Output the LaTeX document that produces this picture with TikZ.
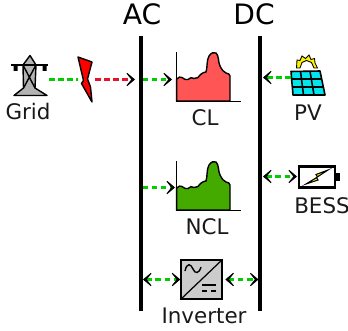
\documentclass[tikz,border=0pt]{standalone}
\usepackage{fontspec}
\setmainfont{DejaVu Sans}
\usetikzlibrary{arrows.meta}
\definecolor{flowgreen}{HTML}{00CC00}
\definecolor{flowred}{HTML}{E8102A}
\definecolor{clfill}{HTML}{FF5555}
\definecolor{nclfill}{HTML}{44AA00}
\definecolor{pvfill}{HTML}{00E5EE}
\definecolor{towergray}{HTML}{B3B3B3}
\definecolor{invgray}{HTML}{CCCCCC}
\tikzset{
  bus/.style={line width=1.75pt,black},
  lbl/.style={font=\fontsize{12.2}{13}\selectfont,inner sep=0pt,text=black!90},
  hdr/.style={font=\fontsize{16}{17}\selectfont,inner sep=0pt},
  tipb/.tip={Stealth[black,length=6.5pt,width=11pt,inset=4.4pt]},
  flow/.style={line width=1.5pt,flowgreen,dash pattern=on 3.2pt off 2pt},
  flowr/.style={line width=1.5pt,flowred,dash pattern=on 3.2pt off 2pt},
  sym/.style={draw=black,line width=0.8pt,line join=round},
  axisl/.style={draw=black,line width=0.9pt},
}
\newcommand{\loadcurve}[1]{
  (176.7,79+#1) .. controls (179,77+#1) and (180,76.5+#1) .. (182,77.5+#1)
  .. controls (184,79+#1) and (186,80.5+#1) .. (188,79.5+#1)
  .. controls (190,77.5+#1) and (192,77+#1) .. (194,78.5+#1)
  .. controls (197,79+#1) and (199,77+#1) .. (200.5,74.5+#1)
  .. controls (202,72+#1) and (204.5,73+#1) .. (206,72+#1)
  .. controls (207.5,68+#1) and (206.5,60+#1) .. (209,56+#1)
  .. controls (211,53+#1) and (214,51.5+#1) .. (216,53+#1)
  .. controls (219,55.5+#1) and (218,62+#1) .. (220,66+#1)
  .. controls (222,70+#1) and (224,72.5+#1) .. (226,73+#1)
  .. controls (228,73.5+#1) and (230,74+#1) .. (230,76+#1)
  -- (230,101+#1) -- (176.7,101+#1) -- cycle
}
\begin{document}
\begin{tikzpicture}[x=0.02cm,y=-0.02cm]
\useasboundingbox (0,0) rectangle (348,331);
% buses
\coordinate (acT) at (141,36); \coordinate (acB) at (141,311);
\coordinate (dcT) at (260,36); \coordinate (dcB) at (260,311);
\draw[bus] (acT) -- (acB);
\draw[bus] (dcT) -- (dcB);
\node[hdr] (ac) at (142,14) {AC};
\node[hdr] (dc) at (254,14) {DC};
% tower
\filldraw[sym,fill=towergray] (30,55.5) -- (36,65) -- (35,88) -- (47,95.5) -- (14,95.5) -- (23.5,88) -- (23,65) -- cycle;
\draw[sym] (23,65) -- (35,88) (36,65) -- (23.5,88);
\draw[black,line width=1pt] (11,65) -- (48,65);
\fill[black] (13.5,65) rectangle (17.5,71) (42.5,65) rectangle (46.5,71);
\node[lbl] (grid) at (28,112) {Grid};
\coordinate (gridE) at (49,79.5);
% bolt
\filldraw[sym,fill=red] (78,57) -- (92,62) -- (87.5,79) -- (90.5,87) -- (92,102) -- (81.5,83.5) -- (83.5,80.5) -- cycle;
\coordinate (boltW) at (78,79.5);
\coordinate (boltE) at (95,79.5);
\coordinate (acIn) at (135,79.5);
\draw[flow] (gridE) -- (boltW);
\draw[flowr,-{tipb}] (boltE) -- (acIn);
% CL
\fill[clfill] \loadcurve{0};
\draw[black,line width=0.8pt] \loadcurve{0};
\draw[axisl] (176.3,52) -- (176.3,101.3) -- (241,101.3);
\node[lbl] (cl) at (205,118) {CL};
\coordinate (acCL) at (142.5,79.5);
\coordinate (clW) at (172,79.5);
\draw[flow,-{tipb}] (acCL) -- (clW);
% NCL
\fill[nclfill] \loadcurve{109};
\draw[black,line width=0.8pt] \loadcurve{109};
\draw[axisl] (176.3,161) -- (176.3,210.3) -- (241,210.3);
\node[lbl] (ncl) at (207,227) {NCL};
\coordinate (acNCL) at (142.5,187.5);
\coordinate (nclW) at (175,187.5);
\draw[flow,-{tipb}] (acNCL) -- (nclW);
% PV
\draw[draw=black,fill=yellow,line width=0.5pt,line join=miter]
 (296.5,68) -- (297,60) -- (300,60.5) -- (302,56) -- (305.5,58.5) -- (309,55) -- (311,59.5) -- (314.5,58.5) -- (315,63) -- (317.5,68) -- (314,68) -- (311.5,62.5) -- (306.5,60.5) -- (302,62.5) -- (300,68) -- cycle;
\filldraw[draw=black,fill=pvfill,line width=0.9pt,line join=round] (291,71.5) -- (320,71) -- (325,95) -- (293,95) -- cycle;
\draw[black,line width=0.9pt] (291.7,79) -- (321.5,79) (292.4,87) -- (323.3,87)
  (300.5,71.4) -- (303.5,95) (310,71.2) -- (314,95);
\node[lbl] (pv) at (308,113) {PV};
\coordinate (pvW) at (291,77.5);
\coordinate (dcPV) at (263,77.5);
\draw[flow,-{tipb}] (pvW) -- (dcPV);
% BESS
\draw[black,line width=1.5pt,fill=white] (299,166.5) rectangle (335,187.5);
\fill[black] (335,173) rectangle (339.5,181);
\filldraw[draw=black,fill=yellow,line width=0.6pt,line join=miter] (328,170) -- (316,174.5) -- (317.5,177) -- (306,184) -- (318,180) -- (316.5,177.5) -- cycle;
\node[lbl] (bess) at (322,206) {BESS};
\coordinate (dcB1) at (263,176.5);
\coordinate (bessW) at (297,176.5);
\draw[flow,{tipb}-{tipb}] (dcB1) -- (bessW);
% Inverter
\node[draw=black,line width=0.8pt,fill=invgray,minimum width=0.82cm,minimum height=0.78cm,inner sep=0pt] (inv) at (201.5,279.5) {};
\draw[black,line width=0.7pt] (inv.south west) -- (inv.north east);
\draw[black,line width=0.8pt] (185,271) .. controls (187,262) and (191,264) .. (193,269) .. controls (195,274) and (199,274) .. (201,267);
\draw[black,line width=0.8pt] (202,285) -- (216,285);
\draw[black,line width=0.8pt] (202,291) -- (207,291) (211,291) -- (216,291);
\node[lbl] (invl) at (204,316) {Inverter};
\coordinate (acI) at (143,279.5);
\coordinate (dcI) at (258.5,279.5);
\draw[flow,{tipb}-{tipb}] (acI) -- (inv.west |- acI);
\draw[flow,{tipb}-{tipb}] ([xshift=1.5pt]inv.east |- dcI) -- (dcI);
\end{tikzpicture}
\end{document}
